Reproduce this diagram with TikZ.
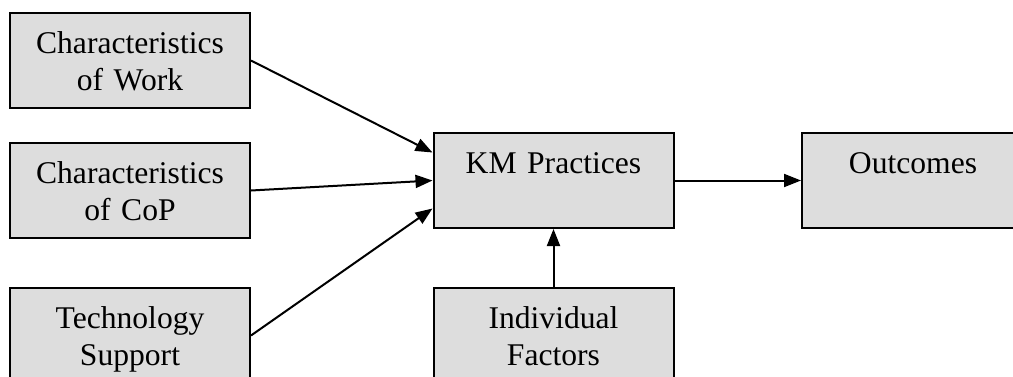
\documentclass[tikz,border=0pt]{standalone}
\usepackage{fontspec}
\setmainfont{Liberation Serif}
\usetikzlibrary{arrows.meta}
\definecolor{boxgray}{RGB}{221,221,221}
\tikzset{
    factor/.style={draw, line width=1pt, fill=boxgray, anchor=north, inner sep=0pt,
        text width=120pt, align=center, text height=20pt, text depth=27.5pt,
        font=\fontsize{15.8}{18.5}\selectfont},
    link/.style={line width=1pt, -{Triangle[length=8.5pt,width=6.5pt]}}
}
\begin{document}
\begin{tikzpicture}[x=0.5pt, y=-0.5pt]
        \clip (0,0) rectangle (1013,376);
        \useasboundingbox (0,0) rectangle (1013,376);

        \node[factor] (work) at (130,12) {Characteristics\\of Work};
        \node[factor] (cop) at (130,142) {Characteristics\\of CoP};
        \node[factor] (tech) at (130,287) {Technology\\Support};
        \node[factor] (km) at (553.5,132) {KM Practices};
        \node[factor, text width=111pt] (out) at (913,132) {Outcomes};
        \node[factor] (indiv) at (553.5,287) {Individual\\Factors};

        \draw[link] (work.east) -- ([yshift=14pt]km.west);
        \draw[link] (cop.east) -- (km.west);
        \draw[link] (tech.east) -- ([yshift=-14pt]km.west);
        \draw[link] (km.east) -- (out.west);
        \draw[link] (indiv.north) -- (km.south);
    \end{tikzpicture}
\end{document}
